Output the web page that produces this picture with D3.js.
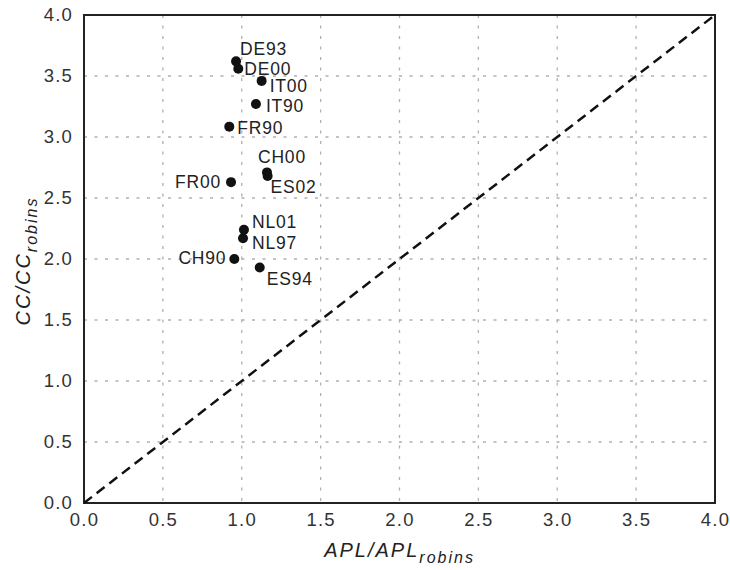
<!DOCTYPE html>
<html lang="en">
<head>
    <meta charset="utf-8">
    <title>CC vs APL</title>
    <script src="https://d3js.org/d3.v7.min.js"></script>
    <style>
        body { margin: 0; background: #fff; }
        text { font-family: "Liberation Sans", Arial, sans-serif; }
    </style>
</head>
<body>
<div id="chart"></div>
<script>
    // data
    const names = ["DE93", "DE00", "IT00", "IT90", "FR90", "CH00", "ES02", "FR00", "NL01", "NL97", "CH90", "ES94"];
    const aplValues = [0.964, 0.978, 1.126, 1.09, 0.921, 1.16, 1.164, 0.932, 1.014, 1.008, 0.953, 1.114];
    const ccValues = [3.62, 3.56, 3.46, 3.27, 3.085, 2.71, 2.68, 2.63, 2.24, 2.17, 2.0, 1.93];
    const ticks = [0, 0.5, 1, 1.5, 2, 2.5, 3, 3.5, 4];

    // label placement relative to each point [dx, dy, anchor]
    const labelPos = {
        DE93: [4, -6, "start"], DE00: [6, 6, "start"], IT00: [8, 11, "start"],
        IT90: [10, 8, "start"], FR90: [8, 7, "start"], CH00: [-9, -9, "start"],
        ES02: [3, 17, "start"], FR00: [-10, 6, "end"], NL01: [8, -2, "start"],
        NL97: [9, 11, "start"], CH90: [-8, 5, "end"], ES94: [7, 17, "start"]
    };

    const width = 730, height = 570;
    const plotLeft = 84, plotRight = 715, plotTop = 15, plotBottom = 503;

    const svg = d3.select("#chart").append("svg")
        .attr("width", width).attr("height", height);

    const x = d3.scaleLinear().domain([0, 4]).range([plotLeft, plotRight]);
    const y = d3.scaleLinear().domain([0, 4]).range([plotBottom, plotTop]);

    // grid
    const grid = svg.append("g");
    grid.selectAll("line.vx")
        .data(ticks.slice(1, -1))
        .enter().append("line")
        .attr("x1", d => x(d)).attr("x2", d => x(d))
        .attr("y1", plotTop).attr("y2", plotBottom)
        .attr("stroke", "#b0b0b0").attr("stroke-width", 1.3)
        .attr("stroke-dasharray", "3,7.5");
    grid.selectAll("line.hy")
        .data(ticks.slice(1, -1))
        .enter().append("line")
        .attr("y1", d => y(d)).attr("y2", d => y(d))
        .attr("x1", plotLeft).attr("x2", plotRight)
        .attr("stroke", "#b0b0b0").attr("stroke-width", 1.3)
        .attr("stroke-dasharray", "3,7.5");

    // axes
    const xAxis = svg.append("g")
        .attr("transform", `translate(0,${plotBottom})`)
        .call(d3.axisBottom(x).tickValues(ticks).tickFormat(d3.format(".1f")).tickSize(0).tickPadding(10));
    const yAxis = svg.append("g")
        .attr("transform", `translate(${plotLeft},0)`)
        .call(d3.axisLeft(y).tickValues(ticks).tickFormat(d3.format(".1f")).tickSize(0).tickPadding(11));
    [xAxis, yAxis].forEach(a => {
        a.select(".domain").remove();
        a.selectAll("text").attr("font-size", 18.5).attr("fill", "#333")
            .attr("letter-spacing", 1.2)
            .style("font-family", "'Liberation Sans', Arial, sans-serif");
    });

    // frame
    svg.append("rect")
        .attr("x", plotLeft).attr("y", plotTop)
        .attr("width", plotRight - plotLeft).attr("height", plotBottom - plotTop)
        .attr("fill", "none").attr("stroke", "#222").attr("stroke-width", 2);

    // diagonal
    svg.append("line")
        .attr("x1", x(0)).attr("y1", y(0))
        .attr("x2", x(4)).attr("y2", y(4))
        .attr("stroke", "#111").attr("stroke-width", 2.5)
        .attr("stroke-dasharray", "10,6");

    // points
    const pts = names.map((n, i) => ({ name: n, apl: aplValues[i], cc: ccValues[i] }));
    svg.append("g").selectAll("circle")
        .data(pts).enter().append("circle")
        .attr("cx", d => x(d.apl)).attr("cy", d => y(d.cc))
        .attr("r", 5).attr("fill", "#111");

    svg.append("g").selectAll("text")
        .data(pts).enter().append("text")
        .attr("x", d => x(d.apl) + labelPos[d.name][0])
        .attr("y", d => y(d.cc) + labelPos[d.name][1])
        .attr("text-anchor", d => labelPos[d.name][2])
        .attr("font-size", 17.5).attr("fill", "#222")
        .attr("letter-spacing", 0.8)
        .text(d => d.name);

    // axis titles
    const xt = svg.append("text")
        .attr("x", (plotLeft + plotRight) / 2).attr("y", 557)
        .attr("text-anchor", "middle").attr("font-size", 20)
        .attr("letter-spacing", 2)
        .attr("font-style", "italic").attr("fill", "#222");
    xt.append("tspan").text("APL/APL");
    xt.append("tspan").attr("font-size", 16).attr("dy", 6).text("robins");

    const yt = svg.append("text")
        .attr("transform", `translate(30,${(plotTop + plotBottom) / 2 + 2}) rotate(-90)`)
        .attr("text-anchor", "middle").attr("font-size", 20)
        .attr("letter-spacing", 2)
        .attr("font-style", "italic").attr("fill", "#222");
    yt.append("tspan").text("CC/CC");
    yt.append("tspan").attr("font-size", 16).attr("dy", 7).text("robins");
</script>
</body>
</html>
